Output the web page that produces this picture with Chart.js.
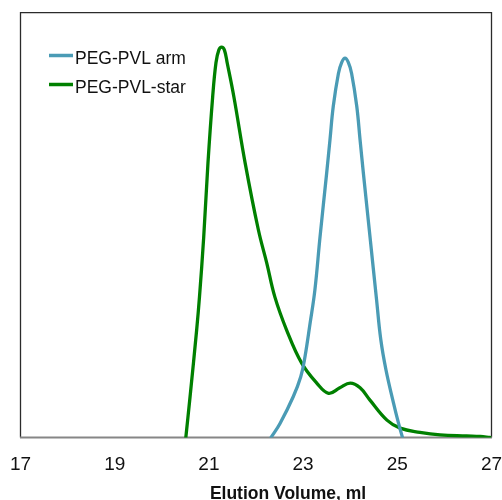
<!DOCTYPE html>
<html>
<head>
<meta charset="utf-8">
<script src="https://cdn.jsdelivr.net/npm/chart.js@4.4.1/dist/chart.umd.min.js"></script>
<style>
  html, body { margin: 0; padding: 0; background: #fff; }
  #wrap { width: 502px; height: 500px; }
</style>
</head>
<body>
<div id="wrap"><canvas id="c" width="502" height="500"></canvas></div>
<script>
// Series labels
const seriesLabels = ["PEG-PVL arm", "PEG-PVL-star"];
const xTickValues = [17, 19, 21, 23, 25, 27];
const xAxisTitle = "Elution Volume, ml";

// PEG-PVL arm (elution volume, ml / relative signal)
const armX = [22.32, 22.51, 22.79, 22.95, 23.04, 23.15, 23.25, 23.36, 23.50, 23.57, 23.64, 23.75, 23.82, 23.89, 23.96, 24.03, 24.14, 24.21, 24.28, 24.42, 24.56, 24.65, 24.76, 24.92, 25.02, 25.11];
const armY = [0, 3.3, 9.6, 14.3, 19.0, 27.0, 34.7, 47.3, 62.2, 70.0, 77.9, 85.7, 88.3, 89.3, 88.3, 85.7, 77.9, 70.0, 62.2, 47.3, 32.4, 23.0, 15.9, 8.1, 3.6, 0];

// PEG-PVL-star
const starX = [20.51, 20.60, 20.74, 20.80, 20.89, 20.98, 21.08, 21.15, 21.21, 21.27, 21.33, 21.39, 21.53, 21.77, 22.05, 22.23, 22.40, 22.65, 22.97, 23.29, 23.54, 23.78, 24.00, 24.21, 24.42, 24.78, 25.06, 25.48, 25.91, 26.47, 26.76, 26.97];
const starY = [0, 9.6, 25.3, 33.1, 47.2, 64.6, 80.2, 88.2, 91.2, 91.9, 91.2, 88.1, 80.2, 64.6, 48.9, 41.0, 33.1, 25.3, 17.5, 12.8, 10.4, 11.7, 12.8, 11.7, 8.8, 4.1, 2.2, 1.2, 0.6, 0.35, 0.24, 0];

const seriesColors = ["#4A9BB5", "#008000"];

function pts(xs, ys) { return xs.map((x, i) => ({ x: x, y: ys[i] })); }

const FONT = "'Liberation Sans', Arial, sans-serif";

const framePlugin = {
  id: 'frame',
  beforeDatasetsDraw(chart) {
    const { ctx, chartArea: a } = chart;
    ctx.save();
    ctx.strokeStyle = '#2b2b2b';
    ctx.lineWidth = 1.3;
    ctx.beginPath();
    ctx.moveTo(a.left, a.bottom);
    ctx.lineTo(a.left, a.top);
    ctx.lineTo(a.right, a.top);
    ctx.lineTo(a.right, a.bottom);
    ctx.stroke();
    ctx.strokeStyle = '#868686';
    ctx.lineWidth = 2;
    ctx.beginPath();
    ctx.moveTo(a.left - 0.5, a.bottom);
    ctx.lineTo(a.right + 0.5, a.bottom);
    ctx.stroke();
    ctx.restore();
  },
  afterDraw(chart) {
    const { ctx } = chart;
    ctx.save();
    const ds = chart.data.datasets;
    const rows = [55.5, 84.5];
    ds.forEach((d, i) => {
      ctx.strokeStyle = d.borderColor;
      ctx.lineWidth = 3.5;
      ctx.beginPath();
      ctx.moveTo(49, rows[i]);
      ctx.lineTo(73, rows[i]);
      ctx.stroke();
      ctx.fillStyle = '#111';
      ctx.font = '17.5px ' + FONT;
      ctx.textBaseline = 'alphabetic';
      ctx.textAlign = 'left';
      ctx.fillText(d.label, 75, rows[i] + 8.5);
    });
    ctx.fillStyle = '#111';
    ctx.font = 'bold 17.5px ' + FONT;
    ctx.textAlign = 'center';
    ctx.textBaseline = 'alphabetic';
    ctx.fillText(xAxisTitle, 288, 499);
    ctx.restore();
  }
};

new Chart(document.getElementById('c'), {
  type: 'scatter',
  data: {
    datasets: [
      { label: seriesLabels[0], data: pts(armX, armY), borderColor: seriesColors[0], backgroundColor: seriesColors[0] },
      { label: seriesLabels[1], data: pts(starX, starY), borderColor: seriesColors[1], backgroundColor: seriesColors[1] }
    ]
  },
  options: {
    responsive: false,
    animation: false,
    devicePixelRatio: 1,
    showLine: true,
    elements: {
      point: { radius: 0, hoverRadius: 0 },
      line: { borderWidth: 3.3, tension: 0.4, fill: false, borderJoinStyle: 'round', borderCapStyle: 'round' }
    },
    layout: { padding: { left: 20.5, right: 10.5, top: 12.7, bottom: 12.5 } },
    plugins: { legend: { display: false }, tooltip: { enabled: false } },
    scales: {
      x: {
        type: 'linear', min: 17, max: 27,
        afterBuildTicks(scale) { scale.ticks = xTickValues.map(v => ({ value: v })); },
        afterFit(scale) { scale.paddingLeft = 0; scale.paddingRight = 0; scale.height = 50; },
        grid: { display: false },
        border: { display: false },
        ticks: { color: '#111', font: { family: FONT, size: 19 }, padding: 7.5, maxRotation: 0 },
        title: { display: false }
      },
      y: { display: false, min: 0, max: 100 }
    }
  },
  plugins: [framePlugin]
});
</script>
</body>
</html>
